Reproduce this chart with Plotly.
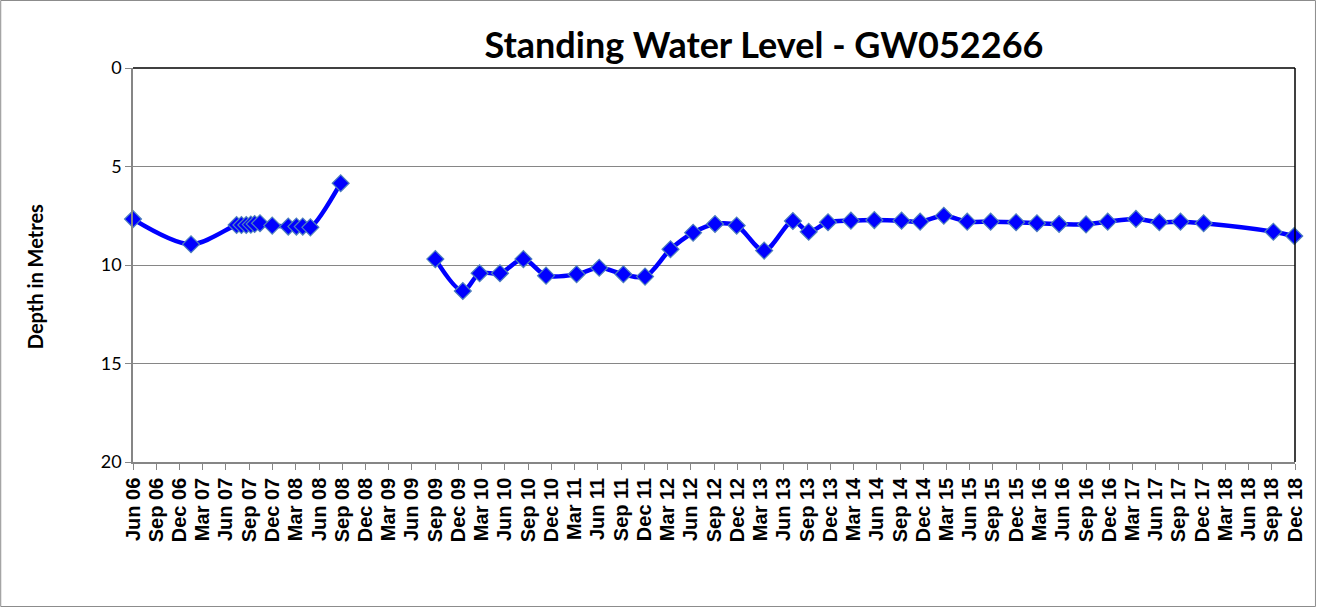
import plotly.graph_objects as go
import pandas as pd

# Segment 1 (2006-2008)
dates_a = ["2006-06-15", "2007-01-29", "2007-07-27", "2007-08-15", "2007-09-03",
           "2007-09-21", "2007-10-06", "2007-10-27", "2007-12-14", "2008-02-15",
           "2008-03-18", "2008-04-12", "2008-05-12", "2008-09-08"]
depth_a = [7.67, 8.95, 7.97, 7.97, 7.97, 7.95, 7.92, 7.88, 8.00, 8.05,
           8.05, 8.05, 8.09, 5.85]

# Segment 2 (2009-2018)
dates_b = ["2009-09-15", "2010-01-01", "2010-03-08", "2010-05-27", "2010-08-27",
           "2010-11-24", "2011-03-24", "2011-06-21", "2011-09-24", "2011-12-18",
           "2012-03-27", "2012-06-24", "2012-09-18", "2012-12-12", "2013-03-30",
           "2013-07-21", "2013-09-21", "2013-12-06", "2014-03-06", "2014-06-06",
           "2014-09-21", "2014-12-03", "2015-03-06", "2015-06-06", "2015-09-06",
           "2015-12-15", "2016-03-06", "2016-06-01", "2016-09-15", "2016-12-09",
           "2017-03-30", "2017-06-30", "2017-09-21", "2017-12-21", "2018-09-21",
           "2018-12-12"]
depth_b = [9.70, 11.32, 10.42, 10.42, 9.70, 10.54, 10.47, 10.14, 10.47, 10.59,
           9.20, 8.36, 7.92, 8.00, 9.27, 7.77, 8.31, 7.83, 7.75, 7.72,
           7.75, 7.80, 7.50, 7.80, 7.80, 7.83, 7.88, 7.92, 7.94, 7.80,
           7.66, 7.83, 7.80, 7.88, 8.31, 8.53]

y_ticks = [0, 5, 10, 15, 20]
tick_dates = pd.date_range("2006-06-01", "2018-12-01", freq="3MS") + pd.Timedelta(days=14)

x_all = dates_a + [None] + dates_b
y_all = depth_a + [None] + depth_b

fig = go.Figure()
fig.add_trace(go.Scatter(
    x=x_all, y=y_all, mode="lines+markers", connectgaps=False, cliponaxis=False,
    line=dict(color="#0000FF", width=4.5, shape="spline", smoothing=0.9),
    marker=dict(symbol="diamond", size=13, color="#0000FF",
                line=dict(color="#4F81BD", width=1.2)),
    showlegend=False, hoverinfo="x+y",
))

L, R, T, B = 133, 21, 68, 146
W, H = 1318, 608
pw = W - L - R
ph = H - T - B

def px_x(px):
    return (px - L) / pw

def px_y(py):
    return (H - B - py) / ph

fig.update_layout(
    width=W, height=H,
    margin=dict(l=L, r=R, t=T, b=B, pad=0),
    paper_bgcolor="white", plot_bgcolor="white",
    title=dict(text="<b>Standing Water Level - GW052266</b>",
               x=px_x(765), xanchor="center", xref="paper",
               y=1 - 45 / H, yanchor="middle", yref="container",
               font=dict(family="Lato", size=36, color="black")),
    xaxis=dict(
        type="date",
        range=[tick_dates[0], tick_dates[-1]],
        tickvals=list(tick_dates), tickformat="%b %y",
        tickangle=-90,
        tickfont=dict(family="Liberation Sans", size=20, color="black", weight="bold"),
        ticks="outside", ticklen=6, tickcolor="#868686", tickwidth=1,
        showline=True, linecolor="#868686", linewidth=1.5,
        showgrid=False, zeroline=False,
    ),
    yaxis=dict(
        range=[20, 0], tickvals=y_ticks,
        tickfont=dict(family="Lato", size=18, color="black"),
        ticks="outside", ticklen=6, tickcolor="#868686", tickwidth=1,
        showline=True, linecolor="#868686", linewidth=1.5,
        showgrid=True, gridcolor="#868686", gridwidth=1,
        zeroline=False,
    ),
    annotations=[dict(
        text="<b>Depth in Metres</b>", textangle=-90,
        x=px_x(35), y=px_y(277), xref="paper", yref="paper",
        xanchor="center", yanchor="middle", showarrow=False,
        font=dict(family="Lato", size=20, color="black"),
    )],
    shapes=[
        dict(type="line", xref="paper", yref="paper", x0=0, x1=1, y0=1, y1=1,
             line=dict(color="black", width=1.5)),
        dict(type="line", xref="paper", yref="paper", x0=1, x1=1, y0=0, y1=1,
             line=dict(color="black", width=1.5)),
        dict(type="rect", xref="paper", yref="paper",
             x0=px_x(0.5), x1=px_x(1317.5), y0=px_y(606.5), y1=px_y(0.5),
             line=dict(color="#8c8c8c", width=1), layer="below"),
    ],
)

fig.write_html("out.html",
               config={"displayModeBar": False},
               post_script="document.body.style.margin='0';document.body.style.overflow='hidden';")
